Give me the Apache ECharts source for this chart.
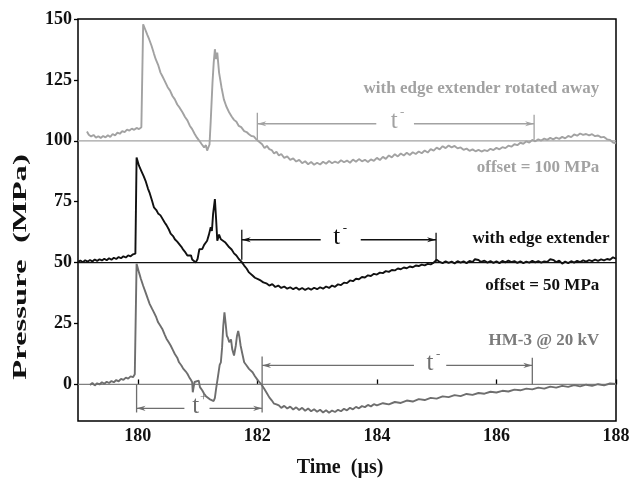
<!DOCTYPE html>
<html>
<head>
<meta charset="utf-8">
<script src="https://cdn.jsdelivr.net/npm/echarts@6/dist/echarts.min.js"></script>
<style>html,body{margin:0;padding:0;background:#fff}#c{width:642px;height:483px}</style>
</head>
<body>
<div id="c"></div>
<script>
// ---- tick labels ----
const xTicks = [180, 182, 184, 186, 188];
const yTicks = [0, 25, 50, 75, 100, 125, 150];

// ---- traces (time in µs, plotted pressure in MPa incl. offset) ----
const rotatedAway = [[179.15,103.8],[179.18,102.5],[179.22,101.8],[179.26,102.4],[179.3,101.3],[179.34,101.9],[179.38,101.2],[179.42,102.0],[179.46,101.4],[179.5,102.3],[179.54,101.6],[179.58,102.8],[179.62,102.2],[179.66,103.4],[179.7,102.9],[179.74,104.0],[179.78,103.6],[179.82,104.6],[179.86,104.2],[179.9,105.0],[179.94,104.5],[179.98,105.3],[180.02,104.8],[180.06,105.6],[180.085,105.2],[180.09,147.8],[180.12,146.0],[180.16,143.5],[180.19,141.7],[180.23,139.0],[180.27,135.8],[180.30,133.5],[180.34,131.2],[180.38,128.0],[180.41,126.6],[180.45,124.6],[180.5,122.0],[180.54,120.6],[180.58,118.4],[180.62,117.0],[180.66,114.9],[180.7,113.6],[180.75,111.6],[180.79,109.8],[180.83,108.4],[180.87,106.2],[180.91,104.8],[180.95,102.9],[180.99,101.3],[181.03,100.0],[181.07,98.6],[181.11,97.3],[181.14,98.2],[181.16,96.0],[181.18,95.6],[181.2,98.5],[181.22,108],[181.25,123.9],[181.27,132],[181.29,137.6],[181.31,133.5],[181.33,136.2],[181.36,128.0],[181.4,122.0],[181.44,117.0],[181.48,114.2],[181.53,111.6],[181.57,110.0],[181.61,108.6],[181.65,107.8],[181.69,106.1],[181.73,105.6],[181.78,104.0],[181.82,103.6],[181.86,102.7],[181.9,102.0],[181.94,101.8],[181.98,100.7],[182.02,99.8],[182.05,100.3],[182.08,98.6],[182.12,97.0],[182.16,97.9],[182.2,96.6],[182.24,96.2],[182.28,94.8],[182.32,95.5],[182.36,94.0],[182.4,94.6],[182.45,93.0],[182.5,93.6],[182.55,92.2],[182.6,92.8],[182.65,91.5],[182.7,92.2],[182.75,90.8],[182.8,91.6],[182.85,90.4],[182.9,91.3],[182.95,90.2],[183.0,91.0],[183.05,90.3],[183.1,91.4],[183.15,90.6],[183.2,91.7],[183.25,90.8],[183.3,91.5],[183.35,90.9],[183.4,92.0],[183.45,91.2],[183.5,91.9],[183.55,91.0],[183.6,92.3],[183.65,91.4],[183.7,92.5],[183.75,91.6],[183.8,92.2],[183.85,91.3],[183.9,92.4],[183.95,91.8],[184.0,93.0],[184.05,92.1],[184.1,93.4],[184.15,92.6],[184.2,94.0],[184.25,93.2],[184.3,94.5],[184.35,93.6],[184.4,94.8],[184.45,94.0],[184.5,95.1],[184.55,94.2],[184.6,95.3],[184.65,94.6],[184.7,95.6],[184.75,94.9],[184.8,96.0],[184.85,95.2],[184.9,96.6],[184.95,96.0],[185.0,97.2],[185.05,96.5],[185.1,97.8],[185.15,97.0],[185.2,98.1],[185.25,97.3],[185.3,97.9],[185.35,96.9],[185.4,97.3],[185.45,96.3],[185.5,96.8],[185.55,95.9],[185.6,96.5],[185.65,95.7],[185.7,96.3],[185.75,95.6],[185.8,96.2],[185.85,95.8],[185.9,96.7],[185.95,96.2],[186.0,97.1],[186.05,96.5],[186.1,97.4],[186.15,97.0],[186.2,98.0],[186.25,97.6],[186.3,98.6],[186.35,98.2],[186.4,99.2],[186.45,98.8],[186.5,99.8],[186.55,99.3],[186.6,100.4],[186.65,99.8],[186.7,100.6],[186.75,100.1],[186.8,100.9],[186.85,100.4],[186.9,101.2],[186.95,100.6],[187.0,101.3],[187.05,100.8],[187.1,101.6],[187.15,101.0],[187.2,102.0],[187.25,101.5],[187.3,102.6],[187.35,102.1],[187.4,103.0],[187.45,102.4],[187.5,102.8],[187.55,102.2],[187.6,102.7],[187.65,101.9],[187.7,102.2],[187.75,101.4],[187.8,101.6],[187.85,100.6],[187.9,100.4],[187.95,99.3],[188.0,99.0]];

const withExtender = [[179.0,50.3],[179.04,50.9],[179.08,50.2],[179.12,51.0],[179.16,50.4],[179.2,51.1],[179.24,50.5],[179.28,51.3],[179.32,50.7],[179.36,51.4],[179.4,50.9],[179.44,51.6],[179.48,51.0],[179.52,51.8],[179.56,51.2],[179.6,52.0],[179.64,51.5],[179.68,52.3],[179.72,51.8],[179.76,52.6],[179.8,52.1],[179.84,53.0],[179.88,52.6],[179.92,53.4],[179.96,53.7],[179.975,53.6],[179.98,93.1],[180.02,89.8],[180.06,87.6],[180.1,85.4],[180.13,83.6],[180.17,80.4],[180.2,78.5],[180.24,75.3],[180.27,72.7],[180.31,71.6],[180.34,70.2],[180.38,69.4],[180.41,68.6],[180.45,66.5],[180.48,65.4],[180.52,63.6],[180.55,61.9],[180.59,60.9],[180.62,59.6],[180.66,58.6],[180.69,57.8],[180.73,56.5],[180.76,55.3],[180.8,54.1],[180.83,52.9],[180.86,52.2],[180.89,53.0],[180.91,51.3],[180.94,51.8],[180.97,50.1],[181.0,51.5],[181.03,55.5],[181.05,56.3],[181.08,55.6],[181.11,57.3],[181.14,57.8],[181.16,59.0],[181.19,61.5],[181.22,64.5],[181.24,63.0],[181.26,70.0],[181.29,76.1],[181.31,68.0],[181.33,59.0],[181.36,61.5],[181.39,59.6],[181.42,60.4],[181.46,58.4],[181.49,57.9],[181.53,56.3],[181.57,55.4],[181.61,53.8],[181.65,52.9],[181.69,51.5],[181.73,50.5],[181.78,48.8],[181.82,47.6],[181.86,46.0],[181.92,44.7],[181.96,43.8],[182.02,43.1],[182.06,42.6],[182.1,41.9],[182.15,41.5],[182.2,40.6],[182.25,41.2],[182.3,40.0],[182.35,40.6],[182.4,39.6],[182.45,40.2],[182.5,39.3],[182.55,39.9],[182.6,39.1],[182.65,39.8],[182.7,38.9],[182.75,39.6],[182.8,38.8],[182.85,39.5],[182.9,38.9],[182.95,39.7],[183.0,39.1],[183.05,39.9],[183.1,39.3],[183.15,40.2],[183.2,39.6],[183.25,40.6],[183.3,40.1],[183.35,41.1],[183.4,40.8],[183.45,41.8],[183.5,41.6],[183.55,42.7],[183.6,42.4],[183.65,43.4],[183.7,43.2],[183.75,44.1],[183.8,43.9],[183.85,44.8],[183.9,44.5],[183.95,45.4],[184.0,45.1],[184.05,45.9],[184.1,45.7],[184.15,46.5],[184.2,46.2],[184.25,47.0],[184.3,46.8],[184.35,47.6],[184.4,47.3],[184.45,48.0],[184.5,47.7],[184.55,48.4],[184.6,48.1],[184.65,48.8],[184.7,48.6],[184.75,49.2],[184.8,48.9],[184.85,49.5],[184.9,49.3],[184.95,50.0],[185.0,51.2],[185.05,50.3],[185.1,49.8],[185.15,50.5],[185.2,49.9],[185.25,50.4],[185.3,49.7],[185.35,50.6],[185.4,50.0],[185.45,50.5],[185.5,49.8],[185.55,50.7],[185.6,50.2],[185.64,51.4],[185.67,52.2],[185.7,51.1],[185.74,50.3],[185.8,50.8],[185.85,50.0],[185.9,50.6],[185.95,49.9],[186.0,50.5],[186.05,49.8],[186.1,50.7],[186.15,50.1],[186.2,50.8],[186.25,50.2],[186.3,50.6],[186.35,49.9],[186.4,50.5],[186.45,49.8],[186.5,50.4],[186.55,50.0],[186.6,50.7],[186.65,50.1],[186.7,50.6],[186.75,50.0],[186.8,50.5],[186.85,50.3],[186.9,51.4],[186.93,52.2],[186.96,51.0],[187.0,50.2],[187.05,50.8],[187.1,49.6],[187.15,50.4],[187.2,49.8],[187.25,50.6],[187.3,50.0],[187.35,50.7],[187.4,50.2],[187.45,50.9],[187.5,50.4],[187.55,51.0],[187.6,50.6],[187.65,51.2],[187.7,50.7],[187.75,51.3],[187.8,50.9],[187.85,51.5],[187.9,51.2],[187.95,52.2],[188.0,51.6]];

const hm3 = [[179.2,-0.2],[179.24,0.6],[179.28,-0.4],[179.32,0.5],[179.36,0.0],[179.4,0.9],[179.44,0.3],[179.48,1.1],[179.52,0.6],[179.56,1.4],[179.6,0.9],[179.64,1.8],[179.68,1.3],[179.72,2.3],[179.76,1.9],[179.8,2.8],[179.84,2.4],[179.88,3.3],[179.92,3.0],[179.95,4.2],[179.975,4.5],[179.98,49.5],[180.02,46.0],[180.05,43.5],[180.09,40.5],[180.13,37.8],[180.17,35.0],[180.2,33.0],[180.24,31.0],[180.27,29.6],[180.31,27.5],[180.34,25.5],[180.38,24.0],[180.41,22.8],[180.45,20.5],[180.48,18.8],[180.52,17.2],[180.55,16.0],[180.59,14.0],[180.62,12.5],[180.66,11.0],[180.69,9.1],[180.73,7.8],[180.76,6.5],[180.8,5.4],[180.83,4.4],[180.86,3.0],[180.89,1.8],[180.91,0.9],[180.92,-3.2],[180.935,-1.0],[180.95,1.0],[180.98,0.5],[181.02,1.6],[181.04,-1.1],[181.08,-2.5],[181.11,-3.8],[181.14,-4.8],[181.17,-5.2],[181.2,-6.0],[181.23,-6.4],[181.27,-6.8],[181.29,-5.5],[181.31,-1.8],[181.34,3.0],[181.37,8.0],[181.39,9.1],[181.41,15],[181.43,24],[181.45,29.6],[181.47,25.0],[181.49,20.0],[181.51,19.0],[181.53,17.3],[181.56,18.5],[181.58,14.5],[181.61,11.9],[181.64,16.0],[181.66,20.0],[181.68,22.0],[181.7,19.5],[181.72,16.0],[181.75,12.5],[181.78,9.1],[181.82,7.8],[181.86,6.4],[181.92,5.0],[181.96,3.4],[182.0,2.0],[182.04,0.8],[182.08,-0.4],[182.12,-2.0],[182.16,-3.6],[182.2,-5.3],[182.24,-6.5],[182.28,-7.9],[182.32,-8.2],[182.36,-8.6],[182.4,-9.6],[182.45,-8.8],[182.5,-9.9],[182.55,-9.1],[182.6,-10.3],[182.65,-9.4],[182.7,-10.5],[182.75,-9.6],[182.8,-10.8],[182.85,-9.9],[182.9,-11.0],[182.95,-10.2],[183.0,-11.2],[183.05,-10.4],[183.1,-11.5],[183.15,-10.6],[183.2,-11.6],[183.25,-10.7],[183.3,-11.3],[183.35,-10.4],[183.4,-11.0],[183.45,-10.0],[183.5,-10.6],[183.55,-9.6],[183.6,-10.2],[183.65,-9.2],[183.7,-9.8],[183.75,-8.9],[183.8,-9.3],[183.85,-8.4],[183.9,-9.0],[183.95,-8.1],[184.0,-8.6],[184.1,-7.7],[184.2,-8.2],[184.3,-7.2],[184.4,-7.6],[184.5,-6.6],[184.6,-7.0],[184.7,-6.0],[184.8,-6.4],[184.9,-5.5],[185.0,-5.8],[185.1,-4.9],[185.2,-5.2],[185.3,-4.4],[185.4,-4.8],[185.5,-3.9],[185.6,-4.3],[185.7,-3.5],[185.8,-3.8],[185.9,-3.0],[186.0,-3.3],[186.1,-2.6],[186.2,-2.9],[186.3,-2.1],[186.4,-2.4],[186.5,-1.7],[186.6,-2.0],[186.7,-1.3],[186.8,-1.7],[186.9,-0.9],[187.0,-1.3],[187.1,-0.6],[187.2,-1.0],[187.3,-0.3],[187.4,-0.8],[187.5,-0.1],[187.6,-0.6],[187.7,0.1],[187.8,-0.4],[187.9,0.4],[188.0,0.2]];

// ---- offsets (baselines) ----
const offsets = [100, 50, 0];

// ---- duration markers: [t1, p1, t2, p2, arrowAtStart, arrowAtEnd] ----
const markersTop = [[182.0,107,183.99,107,1,0],[184.62,107,186.63,107,0,1],[182.0,100.4,182.0,111.5,0,0],[186.63,100.4,186.63,110.7,0,0]];
const markersMid = [[181.74,59.4,183.06,59.4,1,0],[183.73,59.4,184.99,59.4,0,1],[181.74,51.2,181.74,63.5,0,0],[184.99,50.4,184.99,62.3,0,0]];
const markersBot = [[182.08,7.8,184.62,7.8,1,0],[185.16,7.8,186.6,7.8,0,1],[182.08,-11.5,182.08,11.5,0,0],[186.6,0,186.6,11,0,0],
                    [179.98,-9.8,180.78,-9.8,1,0],[181.2,-9.8,182.08,-9.8,0,1],[179.98,0,179.98,-11.5,0,0]];

// ---- duration symbols: [t, p] and their superscripts ----
const symTop = [[184.29,107]]; const supTop = ['-'];
const symMid = [[183.33,59.4]]; const supMid = ['-'];
const symBot = [[184.89,7.8],[180.97,-9.8]]; const supBot = ['-','+'];

// ---- annotation texts: [t, p] (right aligned) ----
const noteTop = [[187.72,121.6],[187.72,88.8]]; const noteTopText = ['with edge extender rotated away','offset = 100 MPa'];
const noteMid = [[187.89,59.7],[187.72,40.6]]; const noteMidText = ['with edge extender','offset = 50 MPa'];
const noteBot = [[187.72,18]]; const noteBotText = ['HM-3 @ 20 kV'];

const C_LIGHT = '#a2a2a2', C_BLACK = '#111111', C_DARK = '#6e6e6e';
const SERIF = '"Liberation Serif", "Times New Roman", serif';

function segRender(color) {
  return function (params, api) {
    const a = api.coord([api.value(0), api.value(1)]);
    const b = api.coord([api.value(2), api.value(3)]);
    const children = [{type:'line', shape:{x1:a[0],y1:a[1],x2:b[0],y2:b[1]}, style:{stroke:color, lineWidth:1.3}}];
    const head = (tip, from) => {
      const dx = tip[0]-from[0], dy = tip[1]-from[1];
      const L = Math.hypot(dx, dy) || 1, ux = dx/L, uy = dy/L, len = 9, w = 2.6;
      return {type:'polygon', shape:{points:[[tip[0],tip[1]],[tip[0]-ux*len-uy*w, tip[1]-uy*len+ux*w],[tip[0]-ux*len*0.7, tip[1]-uy*len*0.7],[tip[0]-ux*len+uy*w, tip[1]-uy*len-ux*w]]}, style:{fill:color}};
    };
    if (api.value(4)) children.push(head(a, b));
    if (api.value(5)) children.push(head(b, a));
    return {type:'group', children};
  };
}
function symRender(color, sups) {
  return function (params, api) {
    const p = api.coord([api.value(0), api.value(1)]);
    return {type:'group', children:[
      {type:'text', x:p[0], y:p[1]-2, style:{text:'t', font:'25px '+SERIF, fill:color, align:'center', verticalAlign:'middle'}},
      {type:'text', x:p[0]+8, y:p[1]-11, style:{text:sups[params.dataIndex], font:'13px '+SERIF, fill:color, align:'center', verticalAlign:'middle'}}
    ]};
  };
}
function noteRender(color, texts) {
  return function (params, api) {
    const p = api.coord([api.value(0), api.value(1)]);
    return {type:'text', x:p[0], y:p[1], style:{text:texts[params.dataIndex], font:'bold 17px '+SERIF, fill:color, align:'right', verticalAlign:'middle'}};
  };
}
function baseline(v, color) {
  return {type:'line', data:[[179, v],[188, v]], symbol:'none', silent:true, lineStyle:{color, width:1.3}, z:1};
}
function trace(d, color) {
  return {type:'line', data:d, symbol:'none', silent:true, lineStyle:{color, width:1.9}, z:2};
}
function custom(d, render) {
  return {type:'custom', data:d, renderItem:render, silent:true, clip:false, z:3, encode:{x:[0,2], y:[1,3]}};
}
function customPt(d, render) {
  return {type:'custom', data:d, renderItem:render, silent:true, clip:false, z:3, encode:{x:0, y:1}};
}

const chart = echarts.init(document.getElementById('c'), null, {renderer:'canvas'});
chart.setOption({
  animation: false,
  backgroundColor: '#fff',
  grid: {left:78, right:26, top:19, bottom:62, show:true, borderColor:'#000', borderWidth:1.5, backgroundColor:'transparent'},
  xAxis: {
    type:'value', min:179, max:188,
    name:'Time  (µs)', nameLocation:'middle', nameGap:37,
    nameTextStyle:{fontFamily:SERIF, fontWeight:'bold', fontSize:20, color:'#111', padding:[0,14,0,0]},
    axisLine:{show:false}, splitLine:{show:false},
    axisTick:{show:true, inside:true, length:5, customValues:xTicks, lineStyle:{color:'#000', width:1.3}},
    axisLabel:{customValues:xTicks, margin:6, fontFamily:SERIF, fontWeight:'bold', fontSize:18, color:'#111'}
  },
  yAxis: {
    type:'value', min:-15, max:150,
    axisLine:{show:false}, splitLine:{show:false},
    axisTick:{show:true, inside:false, length:4, customValues:yTicks, lineStyle:{color:'#000', width:1.3}},
    axisLabel:{customValues:yTicks, margin:6, fontFamily:SERIF, fontWeight:'bold', fontSize:18, color:'#111'}
  },
  graphic: [{
    type:'text', x:21, y:267, rotation:Math.PI/2, scaleX:1.72,
    style:{text:'Pressure  (MPa)', font:'bold 19px '+SERIF, fill:'#111', align:'center', verticalAlign:'middle'}
  }],
  series: [
    baseline(offsets[0], C_LIGHT),
    baseline(offsets[1], C_BLACK),
    baseline(offsets[2], '#808080'),
    trace(rotatedAway, C_LIGHT),
    trace(hm3, C_DARK),
    trace(withExtender, C_BLACK),
    custom(markersTop, segRender(C_LIGHT)),
    custom(markersMid, segRender(C_BLACK)),
    custom(markersBot, segRender(C_DARK)),
    customPt(symTop, symRender(C_LIGHT, supTop)),
    customPt(symMid, symRender(C_BLACK, supMid)),
    customPt(symBot, symRender(C_DARK, supBot)),
    customPt(noteTop, noteRender(C_LIGHT, noteTopText)),
    customPt(noteMid, noteRender(C_BLACK, noteMidText)),
    customPt(noteBot, noteRender('#7a7a7a', noteBotText))
  ]
});
</script>
</body>
</html>
